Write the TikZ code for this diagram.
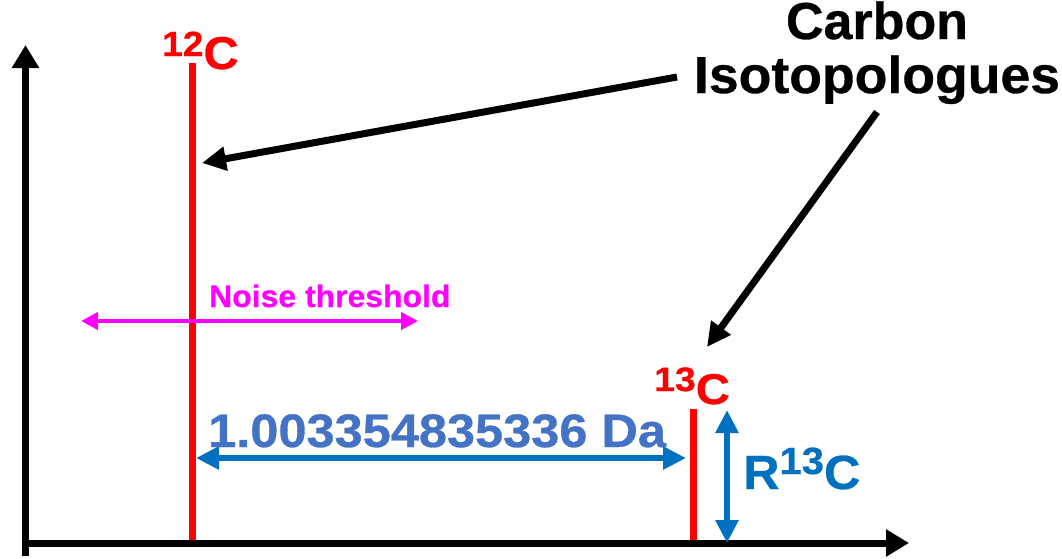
\documentclass[tikz,border=0pt]{standalone}
\usepackage{fontspec}
\setmainfont{Liberation Sans}[BoldFeatures={FakeBold=0.6}]
\usetikzlibrary{arrows.meta}
\definecolor{cred}{RGB}{255,0,0}
\definecolor{cblue}{RGB}{0,112,192}
\definecolor{clblue}{RGB}{68,114,196}
\definecolor{cmag}{RGB}{255,0,255}
\newcommand{\fs}[1]{\fontsize{#1}{#1}\selectfont}
\newcommand{\hx}[2]{\scalebox{#1}[1]{#2}}
\tikzset{
  axis/.style={line width=7pt,-{Triangle[length=23pt,width=26pt]}},
  peak/.style={line width=7pt,cred},
  callout/.style={line width=7pt,-{Triangle[length=24pt,width=23pt]}},
  dim/.style={line width=6.5pt,cblue,{Triangle[length=23pt,width=22pt]}-{Triangle[length=23pt,width=22pt]}},
  noise/.style={line width=4.5pt,cmag,{Triangle[length=17pt,width=17pt]}-{Triangle[length=17pt,width=17pt]}},
  lbl/.style={inner sep=0pt,font=\bfseries}
}
\begin{document}
\begin{tikzpicture}[x=1pt,y=-1pt]
\useasboundingbox (0,0) rectangle (1062,558);
% axes
\coordinate (o) at (25.5,543);
\coordinate (ytop) at (25.5,45);
\coordinate (xend) at (909,543);
\coordinate (ybot) at (25.5,556);
\draw[line width=7pt] (ybot) -- (o);
\draw[axis] (o) -- (ytop);
\draw[axis] (22,543) -- (xend);
% peaks
\coordinate (p12t) at (192,63);
\coordinate (p12b) at (192,540);
\coordinate (p13t) at (693,409);
\coordinate (p13b) at (693,540);
\draw[peak] (p12b) -- (p12t);
\draw[peak] (p13b) -- (p13t);
% labels of peaks
\node[lbl,text=cred,anchor=base west] (l12) at (162,69) {\hx{1.06}{\fs{35}\raisebox{13pt}{12}\fs{46}C}};
\node[lbl,text=cred,anchor=base west] (l13) at (654,404) {\hx{1.1}{\fs{34}\raisebox{13pt}{13}\fs{43}C}};
% noise threshold
\coordinate (nl) at (81,321);
\coordinate (nr) at (418,321);
\draw[noise] (nl) -- (nr);
\node[lbl,text=cmag,anchor=base west] (nt) at (209,307) {\hx{1.03}{\fs{31}Noise threshold}};
% mass difference
\coordinate (dl) at (196,458);
\coordinate (dr) at (686,458);
\draw[dim] (dl) -- (dr);
\node[lbl,text=clblue,anchor=base west] (dt) at (208,447) {\hx{1.075}{\fs{47}1.003354835336 Da}};
% R13C
\coordinate (rt) at (727,410);
\coordinate (rb) at (727,543);
\draw[dim] (rb) -- (rt);
\node[lbl,text=cblue,anchor=base west] (rlab) at (743,489) {\hx{1.05}{\fs{48}R\raisebox{15pt}{\fs{38}13}C}};
% title
\node[lbl,anchor=base] (t1) at (877,39) {\fs{52}Carbon};
\node[lbl,anchor=base] (t2) at (877,93) {\hx{1.03}{\fs{52}Isotopologues}};
\coordinate (a1s) at (677,77);
\coordinate (a1e) at (202,163);
\coordinate (a2s) at (877,112);
\coordinate (a2e) at (707,347);
\draw[callout] (a1s) -- (a1e);
\draw[callout] (a2s) -- (a2e);
\end{tikzpicture}
\end{document}
